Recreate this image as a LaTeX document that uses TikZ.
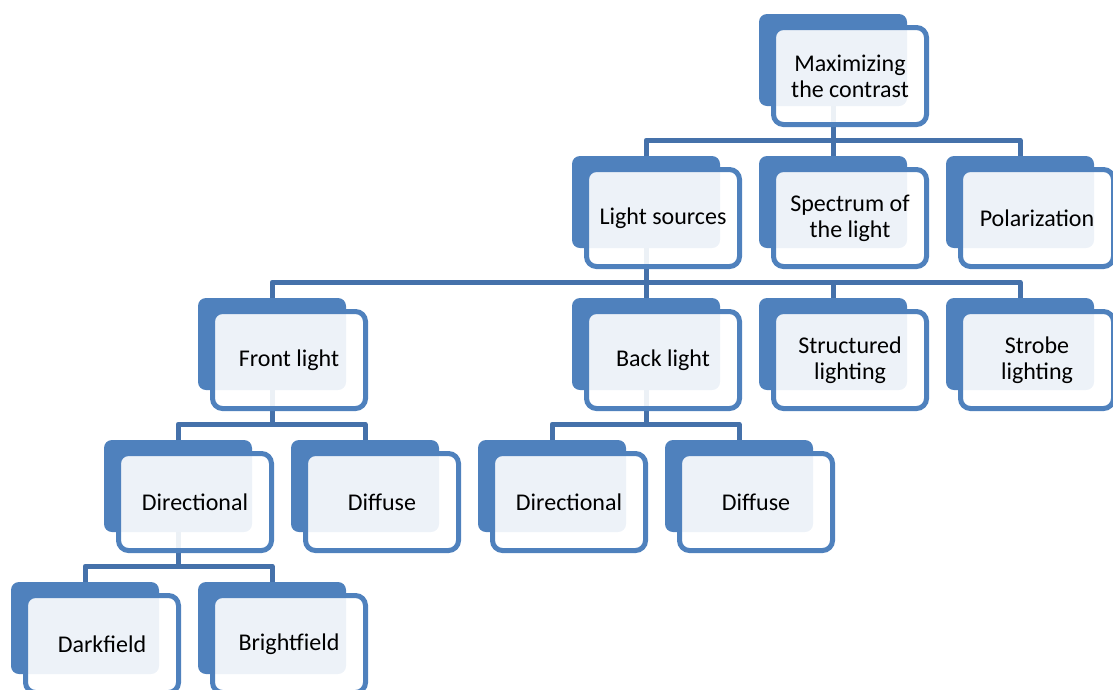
\documentclass[tikz,border=0pt]{standalone}
\usepackage{fontspec}
\setmainfont{Carlito}
\usetikzlibrary{calc}

\definecolor{accent}{HTML}{4F81BD}
\definecolor{linkcol}{HTML}{4571AA}

\tikzset{
  backbox/.style={fill=accent, draw=none, rounded corners=8pt,
    minimum width=148pt, minimum height=92pt, inner sep=0pt},
  frontbox/.style={draw=accent, line width=5pt, fill=white, fill opacity=0.9,
    text opacity=1, rounded corners=10pt, minimum width=153pt,
    minimum height=97pt, inner sep=0pt, align=center, text=black,
    font=\fontsize{24}{26}\selectfont},
  conn/.style={draw=linkcol, line width=5pt, line join=round}
}

% back plate of a box, given its top-left corner
\newcommand\plate[3]{\node[backbox] (#1) at (#2+74,#3+46) {};}
% front card of a box, offset from its plate
\newcommand\card[2]{\node[frontbox] (#1-f) at ($(#1)+(17,16)$) {#2};}
% elbow connector from a parent plate to a child plate
\newcommand\link[2]{\draw[conn] (#1.south) -- ++(0,34) -| (#2.north);}

\begin{document}
\begin{tikzpicture}[x=1pt,y=-1pt]
  \useasboundingbox (0,0) rectangle (1113,689);
  \clip (0,0) rectangle (1113,689);

  % plates
  \plate{root}{759}{14}
  \plate{ls}{572}{156}
  \plate{spec}{759}{156}
  \plate{pol}{946}{156}
  \plate{fl}{198}{298}
  \plate{bl}{572}{298}
  \plate{sl}{759}{298}
  \plate{st}{946}{298}
  \plate{fdir}{104}{440}
  \plate{fdif}{291}{440}
  \plate{bdir}{478}{440}
  \plate{bdif}{665}{440}
  \plate{dark}{11}{582}
  \plate{bright}{198}{582}

  % connectors
  \link{root}{ls}
  \link{root}{spec}
  \link{root}{pol}
  \link{ls}{fl}
  \link{ls}{bl}
  \link{ls}{sl}
  \link{ls}{st}
  \link{fl}{fdir}
  \link{fl}{fdif}
  \link{bl}{bdir}
  \link{bl}{bdif}
  \link{fdir}{dark}
  \link{fdir}{bright}

  % cards
  \card{root}{Maximizing\\the contrast}
  \card{ls}{Light sources}
  \card{spec}{Spectrum of\\the light}
  \card{pol}{Polarization}
  \card{fl}{Front light}
  \card{bl}{Back light}
  \card{sl}{Structured\\lighting}
  \card{st}{Strobe\\lighting}
  \card{fdir}{Directional}
  \card{fdif}{Diffuse}
  \card{bdir}{Directional}
  \card{bdif}{Diffuse}
  \card{dark}{Darkfield}
  \card{bright}{Brightfield}
\end{tikzpicture}
\end{document}
